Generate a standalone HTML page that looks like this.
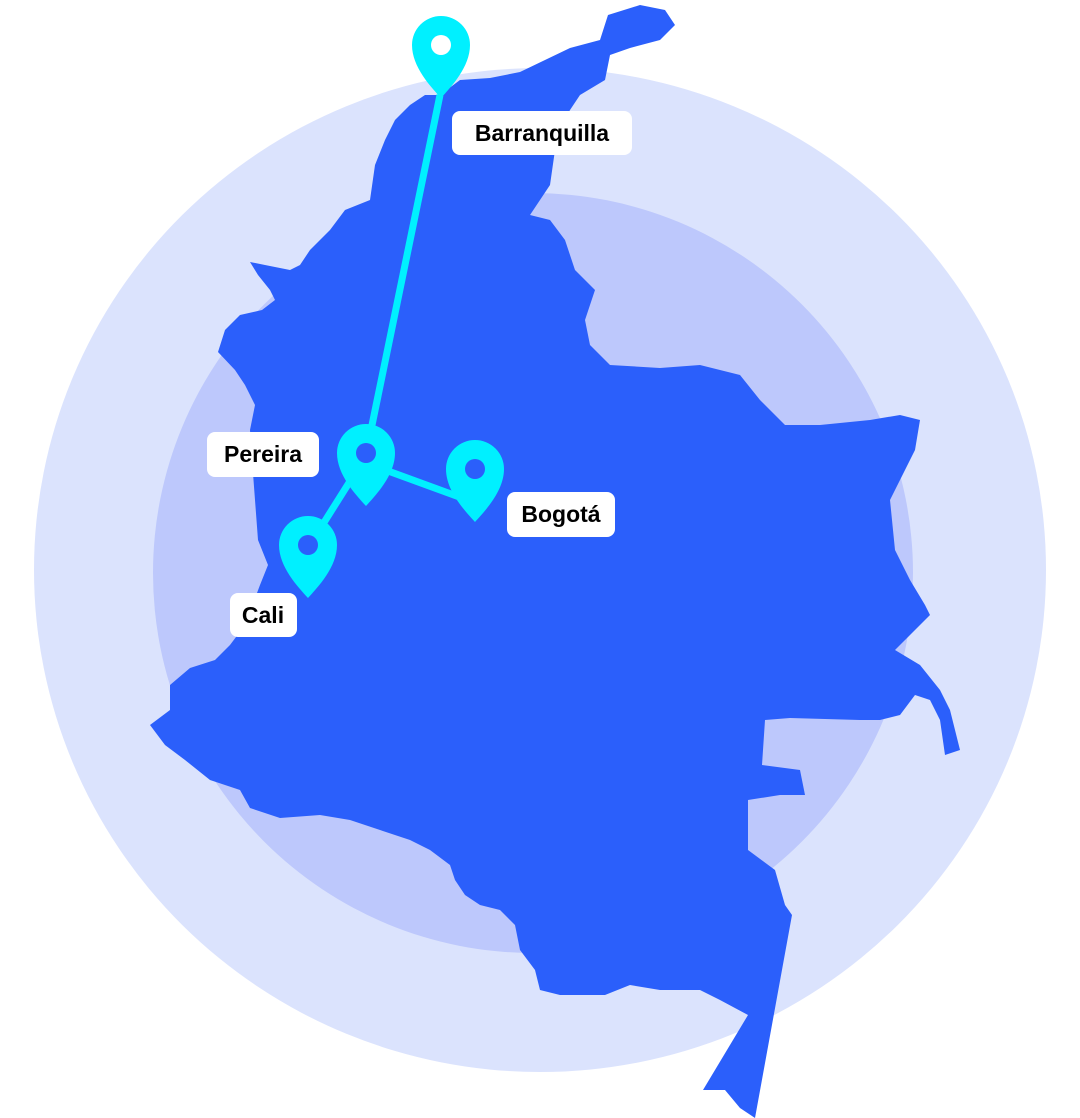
<!DOCTYPE html>
<html><head><meta charset="utf-8"><style>
html,body{margin:0;padding:0;background:#fff;}
svg{display:block;}
text{font-family:"Liberation Sans",sans-serif;font-weight:bold;font-size:23px;fill:#000;}
</style></head><body>
<svg width="1080" height="1118" viewBox="0 0 1080 1118" xmlns="http://www.w3.org/2000/svg">
<ellipse cx="540" cy="570" rx="506" ry="502" fill="#dbe3fd"/>
<circle cx="533" cy="573" r="380" fill="#bdc8fc"/>
<polygon fill="#2b5ffb" points="440,95 460,80 490,78 520,72 545,60 570,48 600,40 608,15 640,5 665,10 675,25 660,40 630,48 610,55 605,80 580,95 570,110 560,130 555,150 550,185 530,215 550,220 565,240 575,270 595,290 585,320 590,345 610,365 660,368 700,365 740,375 760,400 785,425 820,425 870,420 900,415 920,420 915,450 905,470 890,500 895,550 910,580 925,605 930,615 905,640 895,650 920,665 940,690 950,710 960,750 945,755 940,720 930,700 915,695 900,715 880,720 860,720 790,718 765,720 762,765 800,770 805,795 780,795 748,800 748,850 775,870 785,905 792,915 755,1118 740,1108 725,1090 703,1090 748,1015 720,1000 700,990 660,990 630,985 605,995 560,995 540,990 535,970 520,950 515,925 500,910 480,905 465,895 455,880 450,865 430,850 410,840 380,830 350,820 320,815 280,818 250,808 240,790 210,780 185,760 165,745 150,725 170,710 170,685 190,668 215,660 230,645 245,625 260,585 268,565 258,540 255,500 252,460 250,430 255,405 245,385 235,370 218,352 225,330 240,315 262,310 275,300 270,290 258,275 250,262 265,265 290,270 300,265 310,250 330,230 345,210 370,200 375,165 385,140 395,120 410,105 425,95"/>
<g stroke="#00f0ff" stroke-width="7" fill="none">
<line x1="440" y1="95" x2="371" y2="430"/>
<line x1="380" y1="468" x2="462" y2="498"/>
<line x1="352" y1="478" x2="318" y2="532"/>
</g>
<defs>
<path id="pin" d="M0,53 C-10,42 -29,22 -29,0 A29 29 0 1 1 29,0 C29,22 10,42 0,53 Z" fill="#00f0ff"/>
</defs>
<use href="#pin" x="441" y="45"/><circle cx="441" cy="45" r="10" fill="#fff"/>
<use href="#pin" x="366" y="453"/><circle cx="366" cy="453" r="10" fill="#2b5ffb"/>
<use href="#pin" x="475" y="469"/><circle cx="475" cy="469" r="10" fill="#2b5ffb"/>
<use href="#pin" x="308" y="545"/><circle cx="308" cy="545" r="10" fill="#2b5ffb"/>
<rect x="452" y="111" width="180" height="44" rx="8" fill="#fff"/>
<text x="542" y="141" text-anchor="middle">Barranquilla</text>
<rect x="207" y="432" width="112" height="45" rx="8" fill="#fff"/>
<text x="263" y="462" text-anchor="middle">Pereira</text>
<rect x="507" y="492" width="108" height="45" rx="8" fill="#fff"/>
<text x="561" y="522" text-anchor="middle">Bogotá</text>
<rect x="230" y="593" width="67" height="44" rx="8" fill="#fff"/>
<text x="263" y="623" text-anchor="middle">Cali</text>
</svg>
</body></html>
